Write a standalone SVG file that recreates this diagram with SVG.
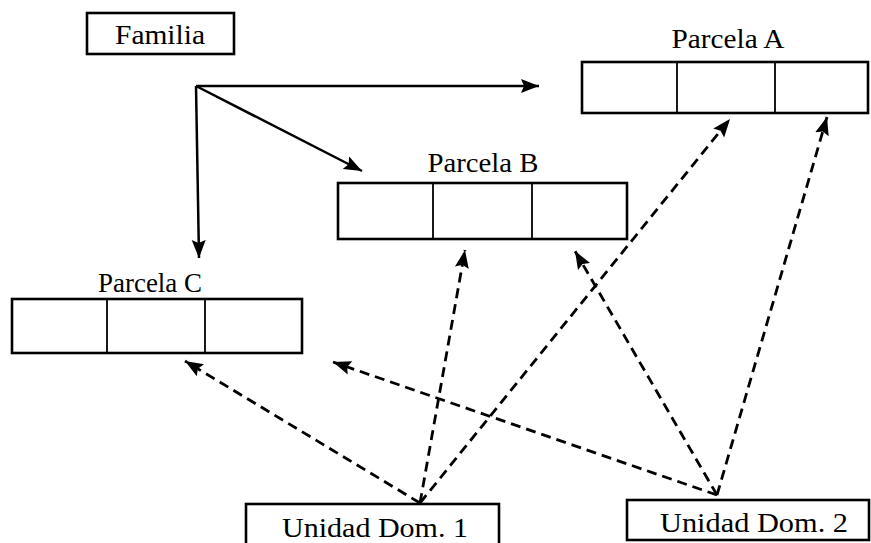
<svg xmlns="http://www.w3.org/2000/svg" width="871" height="543" viewBox="0 0 871 543">
<style>
.box{fill:#fff;stroke:#000;stroke-width:2.6}
.div{stroke:#000;stroke-width:1.8}
.lbl{font-family:"Liberation Serif","Times New Roman",serif;font-size:27px;fill:#000}
.solid{fill:none;stroke:#000;stroke-width:2.5}
.dash{fill:none;stroke:#000;stroke-width:2.8;stroke-dasharray:10 6}
</style>
<defs>
<marker id="ah" markerUnits="userSpaceOnUse" markerWidth="22" markerHeight="16" refX="18" refY="8" orient="auto">
<path d="M0,1 L18,8 L0,15 L3,8 Z" fill="#000"/>
</marker>
</defs>
<rect width="871" height="543" fill="#fff"/>
<g id="familia">
<rect class="box" x="87" y="13" width="147" height="41"/>
<text class="lbl" x="160" y="44" text-anchor="middle" textLength="90" lengthAdjust="spacingAndGlyphs">Familia</text>
</g>
<g id="parcela-a">
<rect class="box" x="582" y="62" width="286" height="51"/>
<line class="div" x1="677" y1="62" x2="677" y2="113"/>
<line class="div" x1="775" y1="62" x2="775" y2="113"/>
<text class="lbl" x="728" y="48" text-anchor="middle" textLength="113" lengthAdjust="spacingAndGlyphs">Parcela A</text>
</g>
<g id="parcela-b">
<rect class="box" x="338" y="183" width="289" height="56"/>
<line class="div" x1="433" y1="183" x2="433" y2="239"/>
<line class="div" x1="532" y1="183" x2="532" y2="239"/>
<text class="lbl" x="483" y="172" text-anchor="middle" textLength="111" lengthAdjust="spacingAndGlyphs">Parcela B</text>
</g>
<g id="parcela-c">
<rect class="box" x="12" y="299" width="290" height="54"/>
<line class="div" x1="107" y1="299" x2="107" y2="353"/>
<line class="div" x1="205" y1="299" x2="205" y2="353"/>
<text class="lbl" x="150" y="292" text-anchor="middle" textLength="104" lengthAdjust="spacingAndGlyphs">Parcela C</text>
</g>
<g id="unidad-dom-1">
<rect class="box" x="246" y="504" width="253" height="46"/>
<text class="lbl" x="375" y="537" text-anchor="middle" textLength="186" lengthAdjust="spacingAndGlyphs">Unidad Dom. 1</text>
</g>
<g id="unidad-dom-2">
<rect class="box" x="627" y="500" width="242" height="40"/>
<text class="lbl" x="754" y="532" text-anchor="middle" textLength="188" lengthAdjust="spacingAndGlyphs">Unidad Dom. 2</text>
</g>
<g id="connectors">
<path class="solid" d="M196,86 L539,86" marker-end="url(#ah)"/>
<path class="solid" d="M196,86 L362,171" marker-end="url(#ah)"/>
<path class="solid" d="M196,86 L199,258" marker-end="url(#ah)"/>
<path class="dash" d="M420,503 L185,361" marker-end="url(#ah)"/>
<path class="dash" d="M420,503 L465,250" marker-end="url(#ah)"/>
<path class="dash" d="M420,503 L730,119" marker-end="url(#ah)"/>
<path class="dash" d="M717,495 L333,362" marker-end="url(#ah)"/>
<path class="dash" d="M717,495 L575,251" marker-end="url(#ah)"/>
<path class="dash" d="M717,495 L827,117" marker-end="url(#ah)"/>
</g>
</svg>
